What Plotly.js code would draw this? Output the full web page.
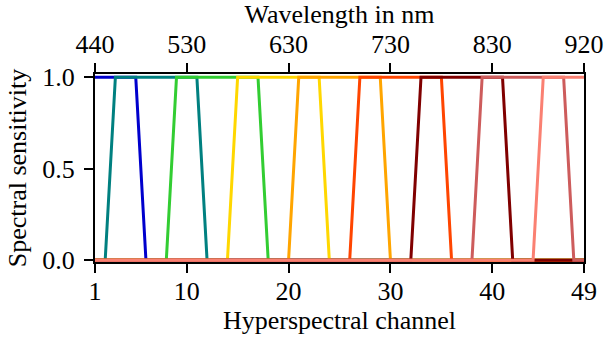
<!DOCTYPE html>
<html>
<head>
<meta charset="utf-8">
<script src="https://cdn.plot.ly/plotly-3.0.1.min.js"></script>
<style>
  html, body { margin: 0; padding: 0; background: #fff; }
  #chart { width: 606px; height: 344px; }
</style>
</head>
<body>
<div id="chart"></div>
<script>
// Tick positions (hyperspectral channel) and matching wavelength labels
const channelTicks = [1, 10, 20, 30, 40, 49];
const channelTickLabels = ['1', '10', '20', '30', '40', '49'];
const wavelengthLabels = ['440', '530', '630', '730', '830', '920'];
const sensitivityTicks = [0, 0.5, 1.0];
const sensitivityLabels = ['0.0', '0.5', '1.0'];

// Filters (drawn in this order)
const filterColors = ['#0000CD', '#008080', '#32CD32', '#FFD700', '#FFA500',
                      '#FF4500', '#800000', '#CD5C5C', '#FA8072'];
// Channel where the response starts to rise from 0 (null = already 1 at channel 1)
const riseStart    = [null, 2, 8, 14, 20, 26, 32, 38, 44];
// First channel at full sensitivity
const plateauStart = [1, 3, 9, 15, 21, 27, 33, 39, 45];
// Last channel at full sensitivity
const plateauEnd   = [5, 11, 17, 23, 29, 35, 41, 47, 49];
// Channel where the response is back to 0 (null = still 1 at channel 49)
const fallEnd      = [6, 12, 18, 24, 30, 36, 42, 48, null];
const firstChannel = 1;
const lastChannel = 49;

const traces = filterColors.map((color, i) => {
  const x = [], y = [];
  if (riseStart[i] !== null) {
    x.push(firstChannel, riseStart[i]); y.push(0, 0);
  }
  x.push(plateauStart[i], plateauEnd[i]); y.push(1, 1);
  if (fallEnd[i] !== null) {
    x.push(fallEnd[i], lastChannel); y.push(0, 0);
  }
  return {
    x: x, y: y, type: 'scatter', mode: 'lines',
    line: { color: color, width: 3 },
    showlegend: false, hoverinfo: 'skip', cliponaxis: false
  };
});

// invisible trace so the top (wavelength) axis is drawn
traces.push({
  x: [firstChannel, lastChannel], y: [null, null], xaxis: 'x2', type: 'scatter',
  mode: 'lines', showlegend: false, hoverinfo: 'skip'
});

const fontFamily = '"Liberation Serif", "Times New Roman", serif';
const fs = 26;
const axisCommon = {
  showline: true, linecolor: '#000', linewidth: 2,
  ticks: 'outside', ticklen: 9, tickwidth: 2, tickcolor: '#000',
  showgrid: false, zeroline: false,
  tickfont: { family: fontFamily, size: fs, color: '#000' }
};

const layout = {
  width: 606, height: 344,
  margin: { l: 95, r: 22, t: 74, b: 82 },
  paper_bgcolor: '#fff', plot_bgcolor: '#fff',
  font: { family: fontFamily, size: fs, color: '#000' },
  xaxis: Object.assign({}, axisCommon, {
    range: [firstChannel, lastChannel],
    tickmode: 'array', tickvals: channelTicks, ticktext: channelTickLabels,
    ticklabelstandoff: -4,
    title: { text: 'Hyperspectral channel', font: { family: fontFamily, size: fs, color: '#000' }, standoff: 5 }
  }),
  xaxis2: Object.assign({}, axisCommon, {
    overlaying: 'x', side: 'top', anchor: 'y',
    range: [firstChannel, lastChannel],
    tickmode: 'array', tickvals: channelTicks, ticktext: wavelengthLabels,
    ticklabelstandoff: 0,
    title: { text: 'Wavelength in nm', font: { family: fontFamily, size: fs, color: '#000' }, standoff: 5 }
  }),
  yaxis: Object.assign({}, axisCommon, {
    range: [-0.01, 1.018], mirror: true,
    tickmode: 'array', tickvals: sensitivityTicks, ticktext: sensitivityLabels,
    ticklabelstandoff: 4,
    title: { text: 'Spectral sensitivity', font: { family: fontFamily, size: fs, color: '#000' }, standoff: 8 }
  })
};

Plotly.newPlot('chart', traces, layout, { displayModeBar: false, staticPlot: true });
</script>
</body>
</html>
